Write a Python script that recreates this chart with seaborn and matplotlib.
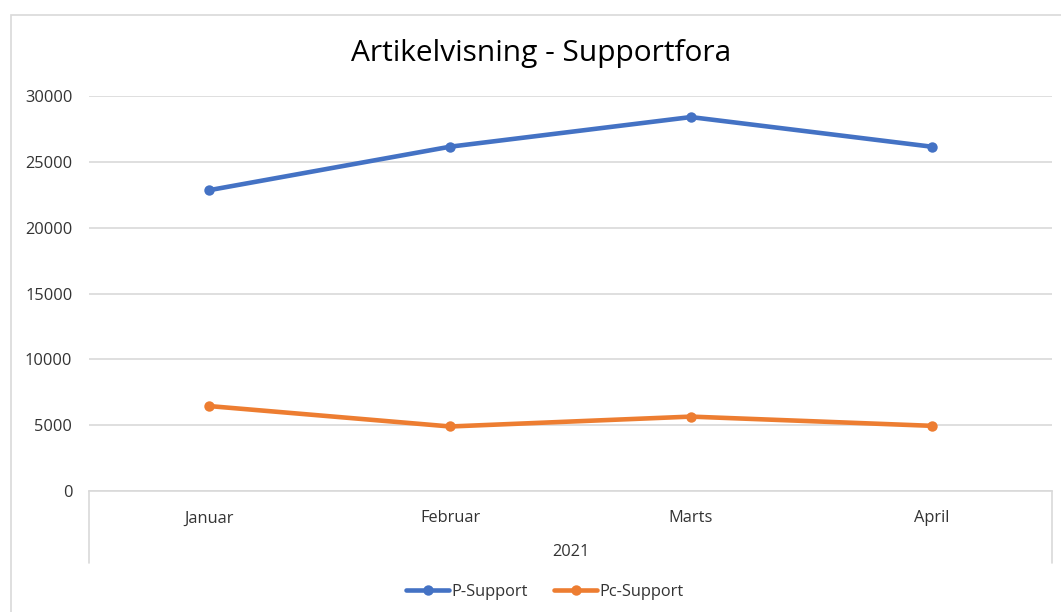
import matplotlib
matplotlib.use("Agg")
import matplotlib.pyplot as plt
import matplotlib.patches as mpatches
import seaborn as sns
import pandas as pd

months = ["Januar", "Februar", "Marts", "April"]
year_label = "2021"
p_support = [22850, 26150, 28400, 26150]
pc_support = [6450, 4900, 5650, 4950]
series_names = ["P-Support", "Pc-Support"]
colors = ["#4472C4", "#ED7D31"]
title = "Artikelvisning - Supportfora"

df = pd.DataFrame({
    "Måned": months * 2,
    "Værdi": p_support + pc_support,
    "Serie": [series_names[0]] * 4 + [series_names[1]] * 4,
})

sns.set_theme(style="white")
plt.rcParams["font.family"] = ["Open Sans", "DejaVu Sans"]

fig = plt.figure(figsize=(10.61, 6.12), dpi=100)
ax = fig.add_axes([89/1061, 1-491/612, (1052-89)/1061, (491-96)/612])

sns.lineplot(data=df, x="Måned", y="Værdi", hue="Serie", palette=colors,
             marker="o", markersize=7.5, markeredgewidth=0, linewidth=3.3,
             sort=False, ax=ax, legend=False)

tick_col = "#333333"
ax.set_ylim(0, 30000)
ax.set_xlim(-0.5, 3.5)
ax.set_yticks(range(0, 30001, 5000))
ax.set_yticklabels([str(v) for v in range(0, 30001, 5000)], fontsize=11.8, color=tick_col)
ax.yaxis.grid(True, color="#D9D9D9", linewidth=1.2)
ax.set_axisbelow(True)
for s in ["top", "right", "left"]:
    ax.spines[s].set_visible(False)
ax.spines["bottom"].set_color("#D9D9D9")
ax.spines["bottom"].set_linewidth(1.2)
ax.tick_params(axis="y", length=0, pad=12)
ax.tick_params(axis="x", length=0, pad=14)
ax.set_xticks(range(len(months)))
ax.set_xticklabels(months, fontsize=11.8, color=tick_col)
ax.set_xlabel("")
ax.set_ylabel("")

trans = ax.get_xaxis_transform()
for xv in (-0.5, 3.5):
    ax.plot([xv, xv], [0, -72/395], transform=trans, color="#D9D9D9",
            linewidth=1.2, clip_on=False)
ax.text(1.5, -61/395, year_label, transform=trans, ha="center", va="center",
        fontsize=11.8, color=tick_col)

fig.text(541/1061, 1-53/612, title, ha="center", va="center", fontsize=21.5, color="#000000")

# chart border
fig.patches.append(mpatches.Rectangle((11/1061, -0.01), 1.1, 1-15/612+0.01,
                   transform=fig.transFigure, fill=False, edgecolor="#D9D9D9",
                   linewidth=1.2))

handles = [plt.Line2D([], [], color=c, marker="o", markersize=7.5, linewidth=3.3,
                      markeredgewidth=0) for c in colors]
fig.legend(handles, series_names, loc="center", bbox_to_anchor=(545/1061, 1-592/612),
           ncol=2, frameon=False, fontsize=11.8, handlelength=2.6, handletextpad=0.15,
           columnspacing=1.6, labelcolor=tick_col)

fig.savefig("out.png", dpi=100)
